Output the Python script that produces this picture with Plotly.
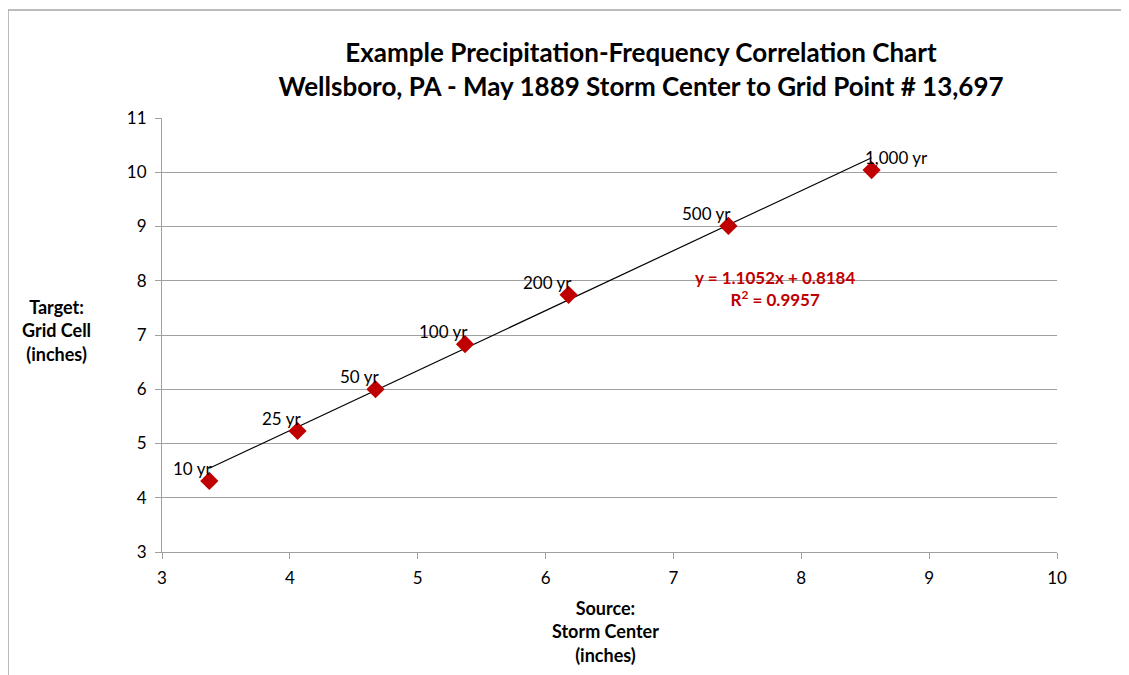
import plotly.graph_objects as go

# Data
return_periods = ["10 yr", "25 yr", "50 yr", "100 yr", "200 yr", "500 yr", "1,000 yr"]
source_inches = [3.37, 4.06, 4.67, 5.37, 6.18, 7.43, 8.55]
target_inches = [4.31, 5.23, 6.00, 6.83, 7.74, 9.01, 10.04]
slope = 1.1052
intercept = 0.8184
r_squared = 0.9957
x_ticks = [3, 4, 5, 6, 7, 8, 9, 10]
y_ticks = [3, 4, 5, 6, 7, 8, 9, 10, 11]

FONT = "Lato, Calibri, Carlito, sans-serif"
RED = "#C00000"
OFF = 8  # page offset of the figure inside the browser window

fig = go.Figure()

# Linear trendline
x0, x1 = min(source_inches), max(source_inches)
fig.add_trace(go.Scatter(
    x=[x0, x1], y=[slope * x0 + intercept, slope * x1 + intercept],
    mode="lines", line=dict(color="#000000", width=1.2),
    hoverinfo="skip", showlegend=False))

# Points
fig.add_trace(go.Scatter(
    x=source_inches, y=target_inches, mode="markers",
    marker=dict(symbol="diamond", color=RED, size=14, line=dict(width=0)),
    showlegend=False))

# Point labels
for i, (lbl, x, y) in enumerate(zip(return_periods, source_inches, target_inches)):
    last = i == len(return_periods) - 1
    fig.add_annotation(
        x=x, y=y, text=lbl, showarrow=False,
        xanchor="left" if last else "right", yanchor="bottom",
        xshift=-9 if last else 5, yshift=0,
        font=dict(family=FONT, size=17, color="#000000"))

# Equation
fig.add_annotation(
    xref="paper", yref="paper", x=(775 - 162) / 895, y=(552 - 288) / 434,
    text=f"y = {slope:.4f}x + {intercept:.4f}<br>R<sup>2</sup> = {r_squared:.4f}",
    showarrow=False, align="center", xanchor="center", yanchor="middle",
    font=dict(family=FONT, size=17, color=RED, weight="bold"))

# Axis titles
fig.add_annotation(
    xref="paper", yref="paper", x=(56 - 162) / 895, y=(552 - 330) / 434,
    text="<b>Target:<br>Grid Cell<br>(inches)</b>", showarrow=False,
    align="center", xanchor="center", yanchor="middle",
    font=dict(family=FONT, size=18, color="#000000"))
fig.add_annotation(
    xref="paper", yref="paper", x=(605 - 162) / 895, y=(552 - 631) / 434,
    text="<b>Source:<br>Storm Center<br>(inches)</b>", showarrow=False,
    align="center", xanchor="center", yanchor="middle",
    font=dict(family=FONT, size=18, color="#000000"))

# Outer chart border
fig.add_shape(type="rect", xref="paper", yref="paper",
              x0=(8 - 162) / 895, y0=(552 - 700) / 434,
              x1=(1160 - 162) / 895, y1=(552 - 10) / 434,
              line=dict(color="#A6A6A6", width=1.5), layer="below")

fig.update_layout(
    width=1129, height=675,
    margin=dict(l=162 - OFF, r=72 + OFF, t=118 - OFF, b=123 + OFF),
    paper_bgcolor="white", plot_bgcolor="white",
    title=dict(
        text="<b>Example Precipitation-Frequency Correlation Chart<br>Wellsboro, PA - May 1889 Storm Center to Grid Point # 13,697</b>",
        x=(641 - OFF) / 1129, xanchor="center", y=1 - (62 - OFF) / 675, yanchor="middle",
        font=dict(family=FONT, size=26, color="#000000")),
    font=dict(family=FONT, size=17, color="#000000"),
)
fig.update_xaxes(range=[3, 10], tickvals=x_ticks, showgrid=False,
                 showline=True, linecolor="#A0A0A0", linewidth=1.2,
                 ticks="outside", ticklen=6, tickcolor="#A0A0A0",
                 ticklabelstandoff=4,
                 zeroline=False, tickfont=dict(family=FONT, size=17, color="#000000"))
fig.update_yaxes(range=[3, 11], tickvals=y_ticks, showgrid=True,
                 gridcolor="#A0A0A0", gridwidth=1,
                 showline=True, linecolor="#A0A0A0", linewidth=1.2,
                 ticks="outside", ticklen=6, tickcolor="#A0A0A0",
                 ticklabelstandoff=5,
                 zeroline=False, tickfont=dict(family=FONT, size=17, color="#000000"))

fig.write_html("out.html")
